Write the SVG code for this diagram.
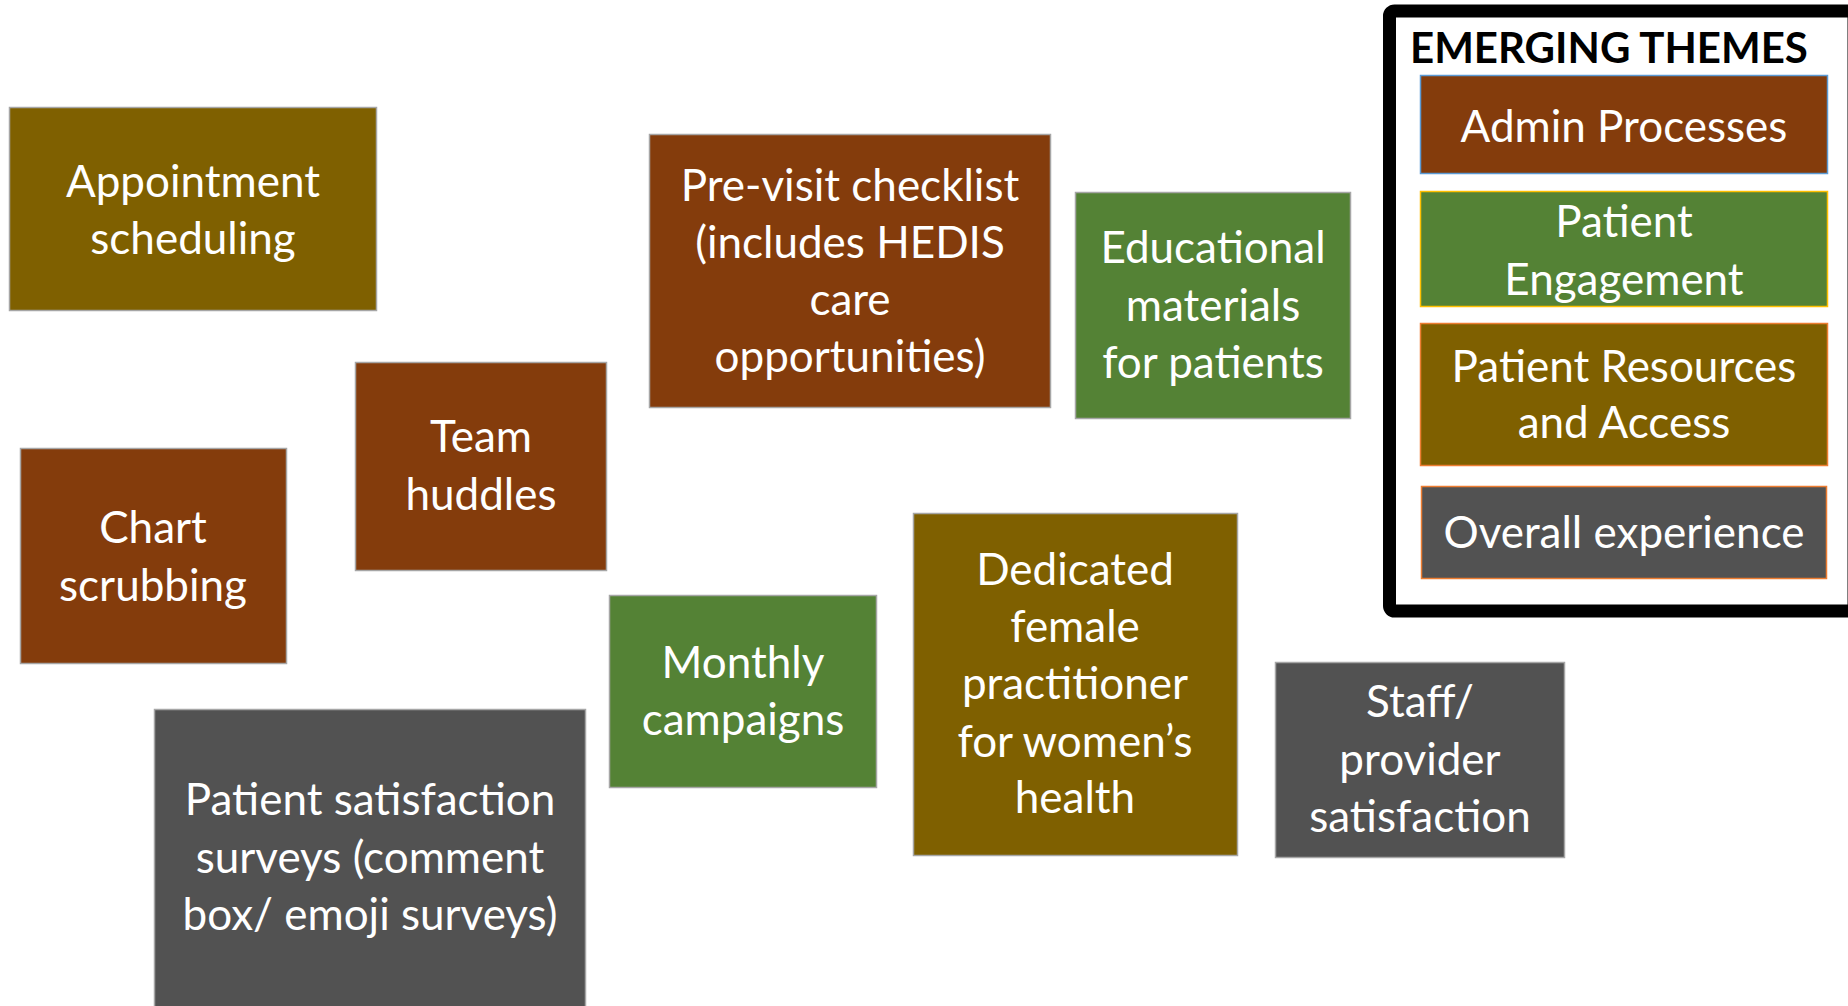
<svg xmlns="http://www.w3.org/2000/svg" width="1848" height="1006" viewBox="0 0 1848 1006">
<style>
.box{stroke:#A6A6A6;stroke-width:1.5}
.brown{fill:#843C0C}
.green{fill:#548235}
.olive{fill:#7F6000}
.gray{fill:#525252}
.t{font-family:Lato,"Liberation Sans",sans-serif;font-size:44px;fill:#FFFFFF;text-anchor:middle}
.title{font-family:Lato,"Liberation Sans",sans-serif;font-size:42px;font-weight:bold;fill:#000000}
</style>
<rect width="1848" height="1006" fill="#FFFFFF"/>
<g id="connectors"></g>

<g id="appointment-scheduling">
<rect class="box olive" x="9.5" y="107.5" width="367" height="203"/>
<text class="t" x="193" y="197">Appointment</text>
<text class="t" x="193" y="254">scheduling</text>
</g>

<g id="pre-visit-checklist">
<rect class="box brown" x="649.5" y="134.5" width="401" height="273"/>
<text class="t" x="850" y="201">Pre-visit checklist</text>
<text class="t" x="850" y="258">(includes HEDIS</text>
<text class="t" x="850" y="315">care</text>
<text class="t" x="850" y="372">opportunities)</text>
</g>

<g id="educational-materials">
<rect class="box green" x="1075.5" y="192.5" width="275" height="226"/>
<text class="t" x="1213" y="263">Educational</text>
<text class="t" x="1213" y="321">materials</text>
<text class="t" x="1213" y="378">for patients</text>
</g>

<g id="team-huddles">
<rect class="box brown" x="355.5" y="362.5" width="251" height="208"/>
<text class="t" x="481" y="452">Team</text>
<text class="t" x="481" y="510">huddles</text>
</g>

<g id="chart-scrubbing">
<rect class="box brown" x="20.5" y="448.5" width="266" height="215"/>
<text class="t" x="153" y="543">Chart</text>
<text class="t" x="153" y="601">scrubbing</text>
</g>

<g id="monthly-campaigns">
<rect class="box green" x="609.5" y="595.5" width="267" height="192"/>
<text class="t" x="743" y="678">Monthly</text>
<text class="t" x="743" y="735">campaigns</text>
</g>

<g id="patient-satisfaction-surveys">
<rect class="box gray" x="154.5" y="709.5" width="431" height="310"/>
<text class="t" x="370" y="815">Patient satisfaction</text>
<text class="t" x="370" y="873">surveys (comment</text>
<text class="t" x="370" y="930">box/ emoji surveys)</text>
</g>

<g id="dedicated-female-practitioner">
<rect class="box olive" x="913.5" y="513.5" width="324" height="342"/>
<text class="t" x="1075" y="585">Dedicated</text>
<text class="t" x="1075" y="642">female</text>
<text class="t" x="1075" y="699">practitioner</text>
<text class="t" x="1075" y="757">for women’s</text>
<text class="t" x="1075" y="813">health</text>
</g>

<g id="staff-provider-satisfaction">
<rect class="box gray" x="1275.5" y="662.5" width="289" height="195"/>
<text class="t" x="1420" y="717">Staff/</text>
<text class="t" x="1420" y="775">provider</text>
<text class="t" x="1420" y="832">satisfaction</text>
</g>

<g id="legend">
<rect x="1389.5" y="11" width="464.5" height="600" rx="5" fill="#FFFFFF" stroke="#000000" stroke-width="13"/>
<text class="title" x="1410" y="63">EMERGING THEMES</text>
<g id="legend-admin">
<rect class="brown" x="1420.5" y="75.5" width="407" height="98" stroke="#5B9BD5" stroke-width="1.5"/>
<text class="t" x="1624" y="142">Admin Processes</text>
</g>
<g id="legend-engagement">
<rect class="green" x="1420.5" y="191.5" width="407" height="115" stroke="#FFC000" stroke-width="1.5"/>
<text class="t" x="1624" y="237">Patient</text>
<text class="t" x="1624" y="295">Engagement</text>
</g>
<g id="legend-resources">
<rect class="olive" x="1420.5" y="323.5" width="407" height="142" stroke="#ED7D31" stroke-width="1.5"/>
<text class="t" x="1624" y="382">Patient Resources</text>
<text class="t" x="1624" y="438">and Access</text>
</g>
<g id="legend-overall">
<rect class="gray" x="1421.5" y="486.5" width="405" height="92" stroke="#ED7D31" stroke-width="1.5"/>
<text class="t" x="1624" y="548">Overall experience</text>
</g>
</g>
</svg>
